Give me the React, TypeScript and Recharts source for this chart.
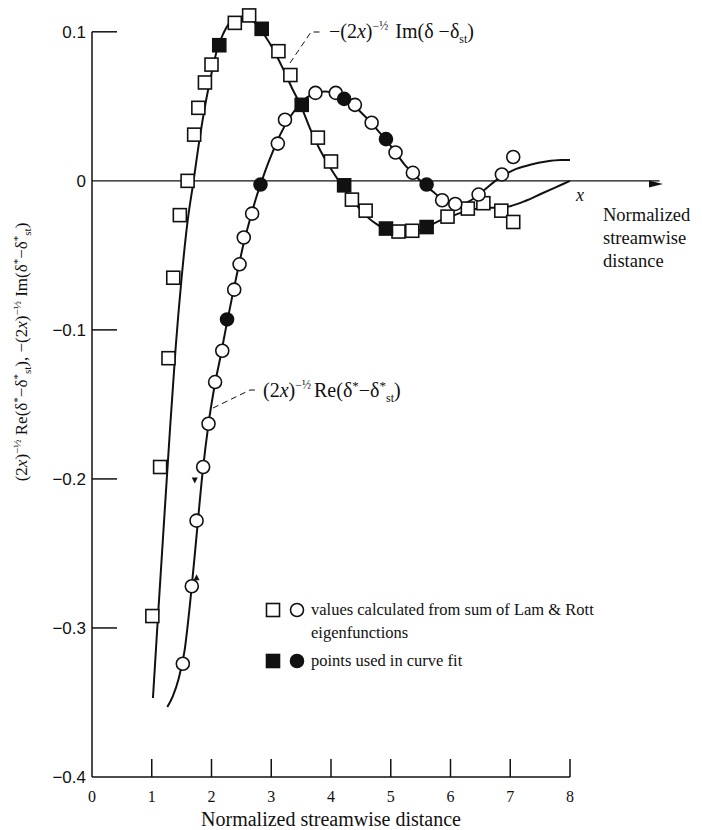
import React from "react";
import { ComposedChart, Line, Scatter, XAxis, YAxis, ReferenceLine } from "recharts";

const xTicks = [0, 1, 2, 3, 4, 5, 6, 7, 8];
const yTicks = [-0.4, -0.3, -0.2, -0.1, 0, 0.1];

// fitted curve for -(2x)^-1/2 Im(delta - delta_st)
const imCurveX = [1.02, 1.1, 1.2, 1.3, 1.4, 1.5, 1.6, 1.7, 1.8, 1.9, 2.0, 2.1, 2.2, 2.3, 2.45, 2.6, 2.75, 2.9, 3.05, 3.2, 3.35, 3.5, 3.65, 3.8, 4.0, 4.2, 4.4, 4.6, 4.8, 5.0, 5.2, 5.4, 5.6, 5.8, 6.0, 6.2, 6.4, 6.6, 6.85, 7.0, 7.25, 7.5, 7.75, 8.0];
const imCurveY = [-0.347, -0.295, -0.232, -0.17, -0.112, -0.065, -0.027, 0.0, 0.028, 0.052, 0.072, 0.089, 0.099, 0.106, 0.11, 0.11, 0.105, 0.097, 0.087, 0.075, 0.062, 0.05, 0.035, 0.022, 0.008, -0.004, -0.015, -0.024, -0.03, -0.034, -0.035, -0.034, -0.031, -0.027, -0.024, -0.021, -0.019, -0.018, -0.018, -0.017, -0.0135, -0.009, -0.0045, 0.0];

// fitted curve for (2x)^-1/2 Re(delta* - delta*_st)
const reCurveX = [1.26, 1.35, 1.45, 1.55, 1.65, 1.75, 1.85, 1.95, 2.05, 2.15, 2.25, 2.35, 2.45, 2.55, 2.65, 2.75, 2.85, 2.95, 3.05, 3.15, 3.3, 3.45, 3.6, 3.75, 3.9, 4.05, 4.2, 4.35, 4.5, 4.65, 4.8, 4.95, 5.1, 5.25, 5.4, 5.55, 5.7, 5.85, 6.0, 6.15, 6.3, 6.45, 6.6, 6.75, 6.9, 7.1, 7.35, 7.6, 7.85, 8.0];
const reCurveY = [-0.353, -0.346, -0.334, -0.315, -0.28, -0.238, -0.196, -0.163, -0.138, -0.118, -0.097, -0.077, -0.058, -0.04, -0.025, -0.011, 0.001, 0.012, 0.022, 0.031, 0.042, 0.05, 0.056, 0.059, 0.06, 0.059, 0.056, 0.052, 0.046, 0.04, 0.033, 0.026, 0.018, 0.01, 0.004, -0.002, -0.007, -0.012, -0.015, -0.016, -0.014, -0.01, -0.005, 0.0, 0.004, 0.008, 0.011, 0.013, 0.014, 0.014];

// squares: values from Lam & Rott eigenfunctions
const openSquareX = [1.01, 1.14, 1.28, 1.36, 1.47, 1.6, 1.71, 1.78, 1.89, 2.0, 2.39, 2.63, 3.12, 3.32, 3.78, 4.0, 4.35, 4.58, 5.13, 5.36, 5.95, 6.29, 6.55, 6.85, 7.05];
const openSquareY = [-0.292, -0.192, -0.119, -0.065, -0.023, 0.0, 0.031, 0.049, 0.066, 0.078, 0.106, 0.111, 0.087, 0.071, 0.029, 0.013, -0.0126, -0.02, -0.034, -0.0335, -0.024, -0.0186, -0.015, -0.02, -0.0276];
const fillSquareX = [2.13, 2.84, 3.51, 4.22, 4.92, 5.6];
const fillSquareY = [0.091, 0.102, 0.051, -0.003, -0.032, -0.031];

// circles
const openCircleX = [1.52, 1.67, 1.75, 1.86, 1.95, 2.06, 2.18, 2.38, 2.47, 2.54, 2.68, 3.11, 3.23, 3.74, 4.08, 4.4, 4.68, 5.08, 5.37, 5.86, 6.08, 6.47, 6.86, 7.05];
const openCircleY = [-0.324, -0.272, -0.228, -0.192, -0.163, -0.135, -0.114, -0.073, -0.056, -0.038, -0.022, 0.025, 0.041, 0.059, 0.059, 0.051, 0.039, 0.019, 0.0054, -0.013, -0.0155, -0.0092, 0.0043, 0.016];
const fillCircleX = [2.26, 2.82, 4.22, 4.92, 5.6];
const fillCircleY = [-0.093, -0.0025, 0.055, 0.028, -0.0025];

// little arrow marks on the Re curve
const arrowX = [1.72, 1.75];
const arrowY = [-0.201, -0.266];
const arrowDir = [1, -1];

const zip = (xs: number[], ys: number[]) => xs.map((x, i) => ({ x, y: ys[i] }));

const ink = "#111";
const serif = "Liberation Serif";
const sans = "Liberation Sans";

const OpenSquare = (p: any) => (
	<rect x={p.cx - 6.5} y={p.cy - 6.5} width={13} height={13} fill="#fff" stroke={ink} strokeWidth={1.6} />
);
const FillSquare = (p: any) => (
	<rect x={p.cx - 6.5} y={p.cy - 6.5} width={13} height={13} fill={ink} stroke={ink} strokeWidth={1.6} />
);
const OpenCircle = (p: any) => <circle cx={p.cx} cy={p.cy} r={6.5} fill="#fff" stroke={ink} strokeWidth={1.6} />;
const FillCircle = (p: any) => <circle cx={p.cx} cy={p.cy} r={6.5} fill={ink} stroke={ink} strokeWidth={1.6} />;
const ArrowMark = (p: any) => {
	const d = p.payload.dir;
	return (
		<polygon
			points={`${p.cx - 3},${p.cy - 3 * d} ${p.cx + 3},${p.cy - 3 * d} ${p.cx},${p.cy + 3 * d}`}
			fill={ink}
		/>
	);
};

const XTick = (p: any) => {
	const { x, y, payload } = p;
	return (
		<g>
			{payload.value !== 0 && <line x1={x} x2={x} y1={y} y2={y - 18} stroke={ink} strokeWidth={1.5} />}
			<text x={x} y={y + 25} textAnchor="middle" fontSize={16} fontFamily={serif} fill={ink}>
				{payload.value}
			</text>
		</g>
	);
};

const YTick = (p: any) => {
	const { x, y, payload } = p;
	const v = payload.value;
	const label = v === 0 ? "0" : v < 0 ? "\u2212" + Math.abs(v).toFixed(1) : v.toFixed(1);
	return (
		<g>
			{v !== 0 && v !== -0.4 && <line x1={x} x2={x + 25} y1={y} y2={y} stroke={ink} strokeWidth={1.5} />}
			<text x={x - 6} y={y + 6} textAnchor="end" fontSize={17} fontFamily={sans} fill={ink}>
				{label}
			</text>
		</g>
	);
};

const Overlay = () => (
	<svg width={702} height={830} style={{ position: "absolute", left: 0, top: 0, pointerEvents: "none" }}>
		{/* arrow at end of x line */}
		<polygon points="663,184 649,180.5 649,187.5" fill={ink} />
		<text x={576} y={201} fontSize={18} fontStyle="italic" fontFamily={serif} fill={ink}>x</text>
		<g fontSize={18.5} fontFamily={serif} fill={ink}>
			<text x={603} y={221}>Normalized</text>
			<text x={603} y={244}>streamwise</text>
			<text x={603} y={267}>distance</text>
		</g>

		{/* Im label */}
		<polyline points="290,63 311,32 322,32" fill="none" stroke={ink} strokeWidth={1} strokeDasharray="6 4" />
		<text x={329} y={38} fontSize={20} fontFamily={serif} fill={ink}>
			{"\u2212(2"}
			<tspan fontStyle="italic">x</tspan>
			{")"}
			<tspan dy={-8} fontSize={12}>{"\u2212\u00bd"}</tspan>
			<tspan dy={8} dx={7}>{"Im(\u03b4 \u2212\u03b4"}</tspan>
			<tspan dy={5} fontSize={12}>st</tspan>
			<tspan dy={-5}>)</tspan>
		</text>

		{/* Re label */}
		<polyline points="213,408 250,390 257,390" fill="none" stroke={ink} strokeWidth={1} strokeDasharray="6 4" />
		<text x={263} y={397} fontSize={20} fontFamily={serif} fill={ink}>
			{"(2"}
			<tspan fontStyle="italic">x</tspan>
			{")"}
			<tspan dy={-8} fontSize={12}>{"\u2212\u00bd"}</tspan>
			<tspan dy={8} dx={3}>{"Re(\u03b4"}</tspan>
			<tspan dy={-7} fontSize={13}>*</tspan>
			<tspan dy={7}>{"\u2212\u03b4"}</tspan>
			<tspan dy={-7} fontSize={13}>*</tspan>
			<tspan dy={12} fontSize={12}>st</tspan>
			<tspan dy={-5}>)</tspan>
		</text>

		{/* legend */}
		<OpenSquare cx={273} cy={610} />
		<OpenCircle cx={297} cy={610} />
		<FillSquare cx={273} cy={661} />
		<FillCircle cx={297} cy={661} />
		<g fontSize={16.5} fontFamily={serif} fill={ink}>
			<text x={311} y={615}>values calculated from sum of Lam &amp; Rott</text>
			<text x={311} y={638}>eigenfunctions</text>
			<text x={311} y={666}>points used in curve fit</text>
		</g>

		{/* y axis title */}
		<text
			x={27}
			y={352}
			transform="rotate(-90, 27, 352)"
			textAnchor="middle"
			fontSize={17}
			fontFamily={serif}
			fill={ink}>
			{"(2"}
			<tspan fontStyle="italic">x</tspan>
			{")"}
			<tspan dy={-6} fontSize={11}>{"\u2212\u00bd"}</tspan>
			<tspan dy={6}>{" Re(\u03b4"}</tspan>
			<tspan dy={-6} fontSize={11}>*</tspan>
			<tspan dy={6}>{"\u2212\u03b4"}</tspan>
			<tspan dy={-6} fontSize={11}>*</tspan>
			<tspan dy={10} fontSize={11}>st</tspan>
			<tspan dy={-4}>{"), \u2212(2"}</tspan>
			<tspan fontStyle="italic">x</tspan>
			{")"}
			<tspan dy={-6} fontSize={11}>{"\u2212\u00bd"}</tspan>
			<tspan dy={6}>{" Im(\u03b4"}</tspan>
			<tspan dy={-6} fontSize={11}>*</tspan>
			<tspan dy={6}>{"\u2212\u03b4"}</tspan>
			<tspan dy={-6} fontSize={11}>*</tspan>
			<tspan dy={10} fontSize={11}>st</tspan>
			<tspan dy={-4}>)</tspan>
		</text>

		<text x={331} y={826} textAnchor="middle" fontSize={20} fontFamily={serif} fill={ink}>
			Normalized streamwise distance
		</text>
	</svg>
);

const App = () => {
	const imCurve = zip(imCurveX, imCurveY);
	const reCurve = zip(reCurveX, reCurveY);
	const arrows = arrowX.map((x, i) => ({ x, y: arrowY[i], dir: arrowDir[i] }));
	return (
		<div style={{ position: "absolute", left: 0, top: 0, width: 702, height: 830, background: "#fff" }}>
			<ComposedChart width={702} height={830} margin={{ top: 2, right: 132, bottom: 23, left: 32 }}>
				<XAxis
					type="number"
					dataKey="x"
					domain={[0, 8]}
					ticks={xTicks}
					interval={0}
					tickSize={0}
					tickMargin={0}
					tickLine={false}
					tick={<XTick />}
					axisLine={{ stroke: ink, strokeWidth: 1.5 }}
				/>
				<YAxis
					type="number"
					dataKey="y"
					domain={[-0.4, 0.12]}
					ticks={yTicks}
					interval={0}
					width={60}
					tickSize={0}
					tickMargin={0}
					tickLine={false}
					tick={<YTick />}
					axisLine={false}
				/>
				<ReferenceLine
					segment={[{ x: 0, y: -0.4 }, { x: 0, y: 0.1 }]}
					stroke={ink}
					strokeWidth={1.5}
					ifOverflow="visible"
				/>
				<ReferenceLine
					segment={[{ x: 0, y: 0 }, { x: 9.5, y: 0 }]}
					stroke={ink}
					strokeWidth={1.3}
					ifOverflow="visible"
				/>
				<Line data={imCurve} dataKey="y" type="monotone" dot={false} stroke={ink} strokeWidth={2} isAnimationActive={false} />
				<Line data={reCurve} dataKey="y" type="monotone" dot={false} stroke={ink} strokeWidth={2} isAnimationActive={false} />
				<Scatter data={zip(openSquareX, openSquareY)} dataKey="y" shape={OpenSquare} isAnimationActive={false} />
				<Scatter data={zip(fillSquareX, fillSquareY)} dataKey="y" shape={FillSquare} isAnimationActive={false} />
				<Scatter data={zip(openCircleX, openCircleY)} dataKey="y" shape={OpenCircle} isAnimationActive={false} />
				<Scatter data={zip(fillCircleX, fillCircleY)} dataKey="y" shape={FillCircle} isAnimationActive={false} />
				<Scatter data={arrows} dataKey="y" shape={ArrowMark} isAnimationActive={false} />
			</ComposedChart>
			<Overlay />
		</div>
	);
};

export default App;
